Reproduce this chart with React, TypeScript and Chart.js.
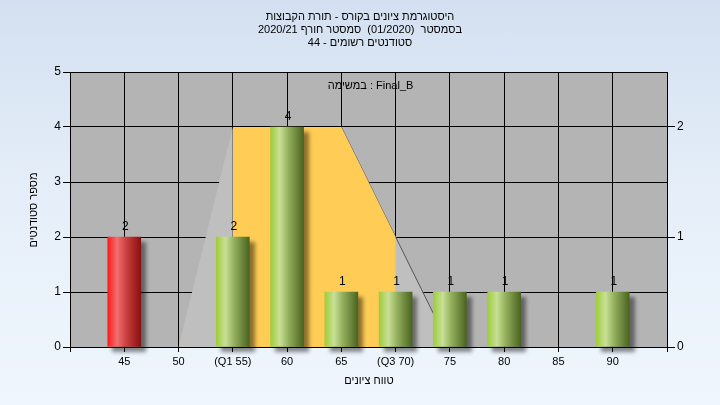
import React, { useEffect, useRef } from 'react';
import { Chart, registerables } from 'chart.js';

Chart.register(...registerables);

// ---- data ----
const titleLines = [
  'היסטוגרמת ציונים בקורס - תורת הקבוצות',
  'בסמסטר  (01/2020)  סמסטר חורף 2020/21',
  'סטודנטים רשומים - 44',
];
const legendText = 'במשימה : Final_B';
const xAxisTitle = 'טווח ציונים';
const yAxisTitle = 'מספר סטודנטים';

const grades = [45, 55, 60, 65, 70, 75, 80, 90];
const counts = [2, 2, 4, 1, 1, 1, 1, 1];
const barKinds = ['fail', 'pass', 'pass', 'pass', 'pass', 'pass', 'pass', 'pass'];

const distX = [50, 55, 65, 75];
const distY = [0, 2, 2, 0];
const iqrX = [55, 65, 70];
const iqrY = [2, 2, 1];

const xTickValues = [45, 50, 55, 60, 65, 70, 75, 80, 85, 90];
const xTickLabels = ['45', '50', '(Q1 55)', '60', '65', '(Q3 70)', '75', '80', '85', '90'];
const yTickValues = [0, 1, 2, 3, 4, 5];
const y1TickValues = [0, 1, 2];

const FONT = "'Liberation Sans', Arial, sans-serif";
const BAR_W = 33;

const gradStops: Record<string, [number, string][]> = {
  fail: [
    [0, '#ff1a1a'],
    [0.28, '#f07070'],
    [0.55, '#cc4040'],
    [1, '#8a1010'],
  ],
  pass: [
    [0, '#a0cc3c'],
    [0.28, '#c8e096'],
    [0.55, '#92ae5c'],
    [1, '#4a6420'],
  ],
};

export default function App() {
  const ref = useRef<HTMLCanvasElement | null>(null);

  useEffect(() => {
    const canvas = ref.current;
    if (!canvas) return;

    const bgPlugin = {
      id: 'plotBg',
      beforeDraw(chart: any) {
        const { ctx, chartArea: a } = chart;
        ctx.save();
        ctx.fillStyle = '#b4b4b4';
        ctx.fillRect(a.left, a.top, a.right - a.left, a.bottom - a.top);
        ctx.restore();
      },
    };

    const shadowPlugin = {
      id: 'barShadow',
      beforeDatasetDraw(chart: any, args: any) {
        if (args.index !== 0) return;
        const ctx = chart.ctx;
        ctx.save();
        ctx.shadowColor = 'rgba(0,0,0,0.45)';
        ctx.shadowOffsetX = 5;
        ctx.shadowOffsetY = 5;
        ctx.shadowBlur = 4;
      },
      afterDatasetDraw(chart: any, args: any) {
        if (args.index !== 0) return;
        chart.ctx.restore();
      },
    };

    const textPlugin = {
      id: 'texts',
      afterDatasetsDraw(chart: any) {
        const ctx = chart.ctx;
        const meta = chart.getDatasetMeta(0);
        ctx.save();
        ctx.fillStyle = '#000';
        ctx.font = `12px ${FONT}`;
        ctx.textAlign = 'center';
        ctx.textBaseline = 'bottom';
        meta.data.forEach((el: any, i: number) => {
          ctx.fillText(String(counts[i]), el.x + 1, el.y - 4);
        });
        ctx.restore();
      },
      afterDraw(chart: any) {
        const ctx = chart.ctx;
        const a = chart.chartArea;
        ctx.save();
        ctx.fillStyle = '#000';
        ctx.font = `11px ${FONT}`;
        ctx.textAlign = 'center';
        ctx.textBaseline = 'middle';
        (ctx as any).direction = 'rtl';
        titleLines.forEach((t, i) => ctx.fillText(t, 360, 17 + i * 13));
        ctx.fillText(xAxisTitle, 369, 381);
        ctx.save();
        ctx.translate(34, 210);
        ctx.rotate(-Math.PI / 2);
        ctx.fillText(yAxisTitle, 0, 0);
        ctx.restore();
        (ctx as any).direction = 'ltr';
        ctx.fillText(legendText, (a.left + a.right) / 2 + 2, 86);
        ctx.restore();
      },
    };

    const barColor = (c: any) => {
      const chart = c.chart;
      const xs = chart.scales && chart.scales.x;
      const kind = barKinds[c.dataIndex] || 'pass';
      const fallback = kind === 'fail' ? '#dd3030' : '#8fb84a';
      if (!xs || c.type !== 'data') return fallback;
      const px = xs.getPixelForValue(grades[c.dataIndex]);
      if (!Number.isFinite(px)) return fallback;
      const g = chart.ctx.createLinearGradient(px - BAR_W / 2, 0, px + BAR_W / 2, 0);
      gradStops[kind].forEach(([o, col]) => g.addColorStop(o, col));
      return g;
    };

    const chart = new Chart(canvas, {
      type: 'bar',
      data: {
        datasets: [
          {
            type: 'bar',
            data: grades.map((g, i) => ({ x: g, y: counts[i] })),
            backgroundColor: barColor,
            borderWidth: 0,
            barThickness: BAR_W,
            yAxisID: 'y',
            order: 0,
            clip: false as any,
          },
          {
            type: 'line',
            data: iqrX.map((x, i) => ({ x, y: iqrY[i] })),
            yAxisID: 'y1',
            fill: 'origin',
            backgroundColor: '#ffcc55',
            borderWidth: 0,
            borderColor: 'rgba(0,0,0,0)',
            pointRadius: 0,
            tension: 0,
            order: 1,
          },
          {
            type: 'line',
            data: distX.map((x, i) => ({ x, y: distY[i] })),
            yAxisID: 'y1',
            fill: 'origin',
            backgroundColor: '#bfbfbf',
            borderWidth: 1,
            borderColor: '#555',
            segment: {
              borderColor: (s: any) =>
                s.p0DataIndex === 0 ? 'rgba(0,0,0,0)' : s.p0DataIndex === 1 ? '#000' : '#555',
            },
            pointRadius: 0,
            tension: 0,
            order: 2,
          },
        ] as any,
      },
      options: {
        responsive: false,
        animation: false,
        events: [],
        layout: { padding: { top: 72, left: 0, right: 0, bottom: 0 } },
        plugins: {
          legend: { display: false },
          title: { display: false },
          tooltip: { enabled: false },
        },
        scales: {
          x: {
            type: 'linear',
            min: 40,
            max: 95,
            offset: false,
            grid: { offset: false, color: '#000', tickColor: '#000', tickLength: 5, lineWidth: 1 },
            border: { color: '#000' },
            afterBuildTicks: (s: any) => {
              const vals = [40, ...xTickValues, 95];
              s.ticks = vals.map((v) => ({ value: v }));
            },
            ticks: {
              autoSkip: false,
              maxRotation: 0,
              padding: 3,
              color: '#000',
              font: { family: FONT, size: 11 },
              callback: (v: any) => {
                const i = xTickValues.indexOf(Number(v));
                return i >= 0 ? xTickLabels[i] : '';
              },
            },
            afterFit: (s: any) => {
              s.height = 58;
            },
          },
          y: {
            type: 'linear',
            position: 'left',
            min: 0,
            max: 5,
            afterBuildTicks: (s: any) => {
              s.ticks = yTickValues.map((v) => ({ value: v }));
            },
            grid: { color: '#000', tickColor: '#000', tickLength: 7, lineWidth: 1 },
            border: { color: '#000' },
            ticks: {
              padding: 2,
              color: '#000',
              font: { family: FONT, size: 12 },
            },
            afterFit: (s: any) => {
              s.width = 70;
            },
          },
          y1: {
            type: 'linear',
            position: 'right',
            min: 0,
            max: 2.5,
            afterBuildTicks: (s: any) => {
              s.ticks = y1TickValues.map((v) => ({ value: v }));
            },
            grid: { drawOnChartArea: false, color: '#000', tickColor: '#000', tickLength: 8 },
            border: { color: '#000' },
            ticks: {
              padding: 2,
              color: '#000',
              font: { family: FONT, size: 12 },
            },
            afterFit: (s: any) => {
              s.width = 53;
            },
          },
        },
      } as any,
      plugins: [bgPlugin, shadowPlugin, textPlugin],
    });

    return () => chart.destroy();
  }, []);

  return (
    <div
      style={{
        position: 'fixed',
        left: 0,
        top: 0,
        width: 720,
        height: 405,
        background: 'linear-gradient(180deg, #d4e0f1 0%, #e6eff9 50%, #eff6fd 100%)',
      }}
    >
      <canvas ref={ref} width={720} height={405} style={{ display: 'block', width: 720, height: 405 }} />
    </div>
  );
}
